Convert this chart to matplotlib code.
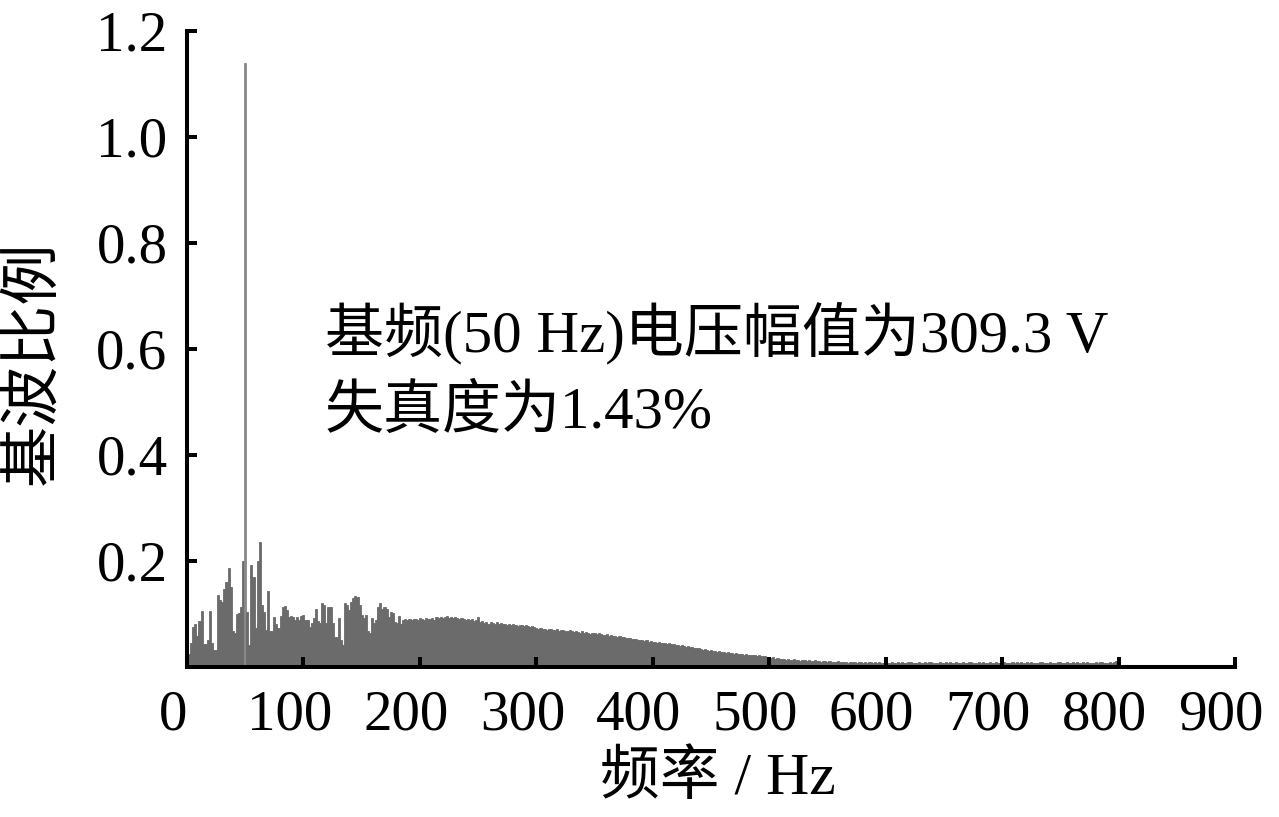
import numpy as np
import matplotlib
matplotlib.use('Agg')
import matplotlib.pyplot as plt
import matplotlib.transforms as mtransforms

plt.rcParams['font.family'] = ['Liberation Serif', 'Noto Sans CJK SC']

# frequency step of the spectrum (Hz), fundamental at bin 28 -> 50 Hz
df = 50 / 28

# amplitude ratio to fundamental, in thousandths
low_0_27 = [0, 25, 46, 76, 81, 58, 87, 105, 43, 43, 50, 105, 45, 32, 32, 136,
            127, 123, 147, 161, 186, 151, 67, 65, 100, 101, 113, 200]
fundamental = [1140]
low_29_61 = [104, 41, 192, 170, 73, 200, 236, 117, 104, 70, 144, 67, 67, 95, 81,
             73, 96, 114, 115, 108, 94, 96, 94, 89, 94, 88, 96, 98, 89, 89, 76, 83, 92]
low_62_94 = [109, 86, 83, 121, 117, 83, 114, 114, 83, 57, 57, 92, 51, 41, 120,
             117, 108, 123, 130, 134, 133, 117, 98, 92, 98, 67, 64, 92, 83, 88, 114, 120, 109]
low_95_109 = [113, 109, 94, 104, 101, 85, 83, 96, 82, 88, 90, 88, 90, 88, 90]
mid_a = [91, 89, 92, 90, 88, 93, 91, 90, 92, 89, 94, 92, 95, 93, 94, 96, 93, 95, 92, 94,
         93, 91, 92, 90, 89, 91, 88, 90, 87, 89]
mid_b = [95, 84, 86, 83, 85, 82, 84, 83, 81, 84, 82, 83, 81, 82, 80, 81, 79, 82, 80, 78,
         80, 79, 77, 79, 78, 76, 77, 75]
mid_c = [74, 72, 73, 71, 72, 70, 72, 71, 69, 70, 71, 68, 69, 70, 67, 68, 69, 67, 66, 68,
         66, 65, 67, 64, 66, 65, 63, 65, 64, 62, 64, 63]
mid_d = [61, 60, 62, 59, 60, 58, 59, 57, 58, 56, 57, 55, 54, 55, 53, 52, 53, 51, 50, 51,
         49, 50, 48, 49, 47, 48, 46, 47, 46, 45, 46, 44, 45, 44]
mid_e = [43, 41, 42, 40, 41, 39, 38, 39, 37, 38, 36, 35, 36, 34, 33, 34, 32, 31, 32, 30,
         31, 29, 30, 28, 29, 27, 28, 26, 27, 25, 26, 25, 24, 25, 23, 24, 23, 22, 23, 22,
         21, 22, 20, 21, 20, 19]
tail_a = [18, 17, 18, 16, 17, 15, 16, 15, 14, 15, 13, 14, 15, 13, 14, 12, 13, 14, 12, 13,
          11, 12, 13, 11, 12, 10, 11, 12, 10, 11, 10, 9, 10, 11, 9, 10, 9, 10, 8, 9,
          10, 9, 8, 9, 10, 8, 9, 8, 9, 10, 8, 9, 8, 9, 8]
tail_b = [8, 9, 7, 8, 10, 8, 7, 9, 8, 9, 7, 8, 9, 10, 8, 7, 8, 9, 8, 7,
          9, 8, 10, 9, 7, 8, 8, 9, 7, 8, 10, 8, 9, 7, 8, 9, 8, 7, 9, 8,
          8, 10, 9, 8, 7, 8, 9, 8, 10, 8, 7, 9, 8, 8, 9, 7, 8, 10, 9, 8,
          8, 7, 9, 8, 9, 8, 10, 8, 7, 9, 8, 9, 7, 8, 8, 10, 9, 8, 7, 8,
          9, 8, 8, 7, 9, 10, 8, 8, 9, 7, 8, 9, 8, 10, 8, 7, 9, 8, 9, 8,
          7, 8, 9, 8, 10, 9, 8, 7, 8, 9, 8, 10, 11]
tail_c = [3, 2, 1, 2, 2, 1, 2, 1, 1, 2, 1, 2, 3, 4, 3, 4, 3, 3, 2, 3, 2,
          1, 0, 1, 1, 2, 1, 2, 3, 2, 1, 2, 2, 1, 2, 1, 1, 2, 1]

ratio = np.array(low_0_27 + fundamental + low_29_61 + low_62_94 + low_95_109 +
                 mid_a + mid_b + mid_c + mid_d + mid_e + tail_a + tail_b + tail_c) / 1000
freq = np.arange(len(ratio)) * df

xticks = [0, 100, 200, 300, 400, 500, 600, 700, 800, 900]
yticks = [0.2, 0.4, 0.6, 0.8, 1.0, 1.2]

fig = plt.figure(figsize=(12.79, 8.17), dpi=100)
ax = fig.add_axes([0.1462, 0.1836, 0.8194, 0.7785])

colors = ['#6b6b6b'] * len(ratio)
colors[28] = '#8a8a8a'
ax.bar(freq, ratio, width=df, color=colors, edgecolor=colors, linewidth=0.6)

ax.set_xlim(0, 900)
ax.set_ylim(0, 1.2)
ax.set_xticks(xticks)
ax.set_yticks(yticks)
ax.set_yticklabels(['%.1f' % v for v in yticks])

for s in ['top', 'right']:
    ax.spines[s].set_visible(False)
for s in ['left', 'bottom']:
    ax.spines[s].set_linewidth(2.9)
ax.tick_params(direction='in', length=7, width=2.9, labelsize=41, pad=14)
ax.tick_params(axis='x', pad=16)

# x labels sit a bit left of their ticks in the original
shift = mtransforms.ScaledTranslation(-14 / 100, 0, fig.dpi_scale_trans)
for lab in ax.get_xticklabels():
    lab.set_transform(lab.get_transform() + shift)

ax.set_xlabel('频率 / Hz', fontsize=43)
ax.set_ylabel('基波比例', fontsize=44)
ax.xaxis.set_label_coords(0.507, -0.132)
ax.yaxis.set_label_coords(-0.119, 0.478)

ax.text(118.5, 0.593, '基频(50 Hz)电压幅值为309.3 V', fontsize=42.5, va='baseline')
ax.text(118.5, 0.451, '失真度为1.43%', fontsize=42.5, va='baseline')

fig.savefig('out.png', dpi=100)
